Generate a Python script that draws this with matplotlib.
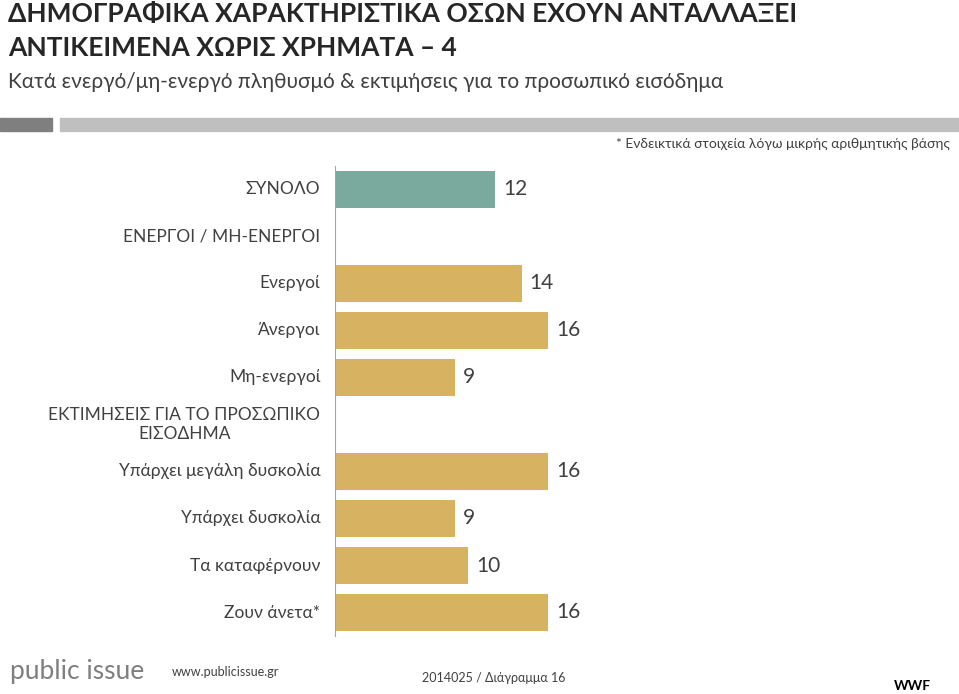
import matplotlib.pyplot as plt

plt.rcParams["font.family"] = "Lato"

labels = ["ΣΥΝΟΛΟ", "ΕΝΕΡΓΟΙ / ΜΗ-ΕΝΕΡΓΟΙ", "Ενεργοί", "Άνεργοι", "Μη-ενεργοί",
          "ΕΚΤΙΜΗΣΕΙΣ ΓΙΑ ΤΟ ΠΡΟΣΩΠΙΚΟ\nΕΙΣΟΔΗΜΑ", "Υπάρχει μεγάλη δυσκολία",
          "Υπάρχει δυσκολία", "Τα καταφέρνουν", "Ζουν άνετα*"]
values = [12, None, 14, 16, 9, None, 16, 9, 10, 16]
teal = "#7aa99d"
gold = "#d7b260"

W, H = 959, 694
fig = plt.figure(figsize=(W / 100, H / 100), dpi=100)

# title block
fig.text(8 / W, 1 - 14 / H, "ΔΗΜΟΓΡΑΦΙΚΑ ΧΑΡΑΚΤΗΡΙΣΤΙΚΑ ΟΣΩΝ ΕΧΟΥΝ ΑΝΤΑΛΛΑΞΕΙ",
         fontsize=19, fontweight="bold", color="#262626", va="center")
fig.text(8 / W, 1 - 48 / H, "ΑΝΤΙΚΕΙΜΕΝΑ ΧΩΡΙΣ ΧΡΗΜΑΤΑ – 4",
         fontsize=19, fontweight="bold", color="#262626", va="center")
fig.text(8 / W, 1 - 82 / H, "Κατά ενεργό/μη-ενεργό πληθυσμό & εκτιμήσεις για το προσωπικό εισόδημα",
         fontsize=15, color="#404040", va="center")
fig.patches.append(plt.Rectangle((0, 1 - 131 / H), 52 / W, 13 / H, transform=fig.transFigure,
                                 color="#7f7f7f", figure=fig))
fig.patches.append(plt.Rectangle((60 / W, 1 - 131 / H), (W - 60) / W, 13 / H, transform=fig.transFigure,
                                 color="#bfbfbf", figure=fig))
fig.text(950 / W, 1 - 144 / H, "* Ενδεικτικά στοιχεία λόγω μικρής αριθμητικής βάσης",
         fontsize=10, color="#404040", ha="right", va="center")

ax = fig.add_axes([335 / W, 58 / H, 600 / W, 470 / H])
ax.set_xlim(0, 45)
ax.set_ylim(len(labels) - 0.5, -0.5)
for i, (lab, v) in enumerate(zip(labels, values)):
    if v is not None:
        ax.barh(i, v, height=0.77, color=teal if i == 0 else gold)
        ax.text(v + 0.6, i, str(v), va="center", ha="left", fontsize=15, color="#404040")
    ax.text(-1.1, i, lab, ha="right", va="center", multialignment="center",
            fontsize=12.5, color="#404040", transform=ax.transData, clip_on=False)
for s in ["top", "right", "bottom"]:
    ax.spines[s].set_visible(False)
ax.spines["left"].set_color("#a6a6a6")
ax.set_xticks([])
ax.set_yticks([])

# footer
fig.text(10 / W, 1 - 672 / H, "public issue", fontsize=19, color="#7f7f7f", va="center")
fig.text(172 / W, 1 - 672 / H, "www.publicissue.gr", fontsize=9, color="#404040", va="center")
fig.text(422 / W, 1 - 678 / H, "2014025 / Διάγραμμα 16", fontsize=9, color="#404040", va="center")
fig.text(912 / W, 1 - 686 / H, "WWF", fontsize=10, fontweight="bold", color="black", ha="center", va="center")

fig.savefig("out.png", dpi=100)
